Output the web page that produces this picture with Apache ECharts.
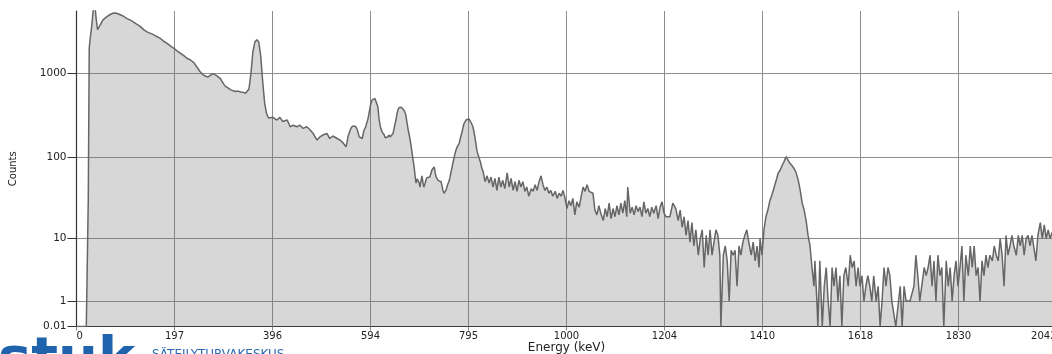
<!DOCTYPE html>
<html><head><meta charset="utf-8">
<script src="https://cdn.jsdelivr.net/npm/echarts@6/dist/echarts.min.js"></script>
<style>html,body{margin:0;padding:0;background:#fff}#c{width:1052px;height:354px}</style>
</head><body><div id="c"></div>
<script>
// Energy tick labels (keV) shown at every 200 channels
const xTickLabels = ['0','197','396','594','795','1000','1204','1410','1618','1830','2042'];
const yTickValues = [0.01, 1, 10, 100, 1000];
const yTickLabels = ['0.01','1','10','100','1000'];

// channel numbers
const channels = [
0,20,22,24,26,28,31,34,36,38,40,43,45,48,54,62,68,74,80,86,89,96,103,109,115,122,130,137,144,150,156,163,171,178,185,192,199,205,211,219,226,232,236,240,246,252,258,263,268,272,278,282,286,290,294,297,301,304,309,314,320,325,330,335,340,345,349,352,356,360,364,368,372,376,380,384,388,392,396,
401,405,409,415,418,421,425,430,433,436,442,446,450,456,459,462,466,470,474,477,480,483,487,491,494,497,500,503,507,511,514,517,520,523,527,532,535,538,541,544,547,550,552,554,557,560,563,566,569,572,575,577,580,583,585,587,590,593,595,597,600,603,606,609,611,613,615,617,619,621,624,628,630,632,635,638,640,642,644,646,649,652,654,656,658,660,663,666,669,672,674,677,679,681,683,685,687,689,691,693,695,697,699,701,703,705,707,709,711,713,715,717,719,721,723,725,727,730,732,734,736,738,741,744,746,748,750,752,754,756,758,760,762,764,766,768,770,772,774,777,779,781,784,787,789,791,793,795,797,799,
801,803,806,809,811,813,815,817,819,821,823,825,827,830,832,834,836,838,842,846,850,854,858,862,866,870,874,879,883,887,891,895,899,903,907,911,915,919,923,928,932,936,940,944,948,952,956,960,964,968,972,977,981,985,989,993,997,
1001,1005,1009,1013,1017,1021,1026,1030,1034,1038,1042,1046,1050,1054,1058,1062,1066,1070,1075,1079,1083,1087,1091,1095,1099,1103,1107,1111,1115,1119,1123,1125,1130,1134,1138,1142,1146,1150,1154,1158,1162,1166,1170,1174,1178,1183,1187,1191,1195,1199,
1203,1207,1211,1217,1223,1228,1232,1236,1240,1244,1248,1252,1256,1260,1264,1269,1273,1277,1281,1285,1289,1293,1297,1301,1305,1309,1313,1315,1320,1324,1328,1332,1336,1340,1344,1348,1352,1356,1360,1364,1368,1372,1377,1381,1385,1389,1393,1395,1399,
1403,1407,1411,1415,1419,1424,1428,1432,1436,1440,1444,1448,1452,1456,1460,1464,1468,1473,1477,1481,1485,1489,1493,1497,1501,1505,1507,1511,1513,1517,1522,1526,1530,1534,1538,1542,1546,1550,1554,1558,1562,1566,1570,1575,1579,1583,1587,1591,1595,1599,
1603,1607,1611,1615,1619,1623,1627,1632,1636,1640,1644,1648,1652,1656,1660,1664,1668,1672,1676,1681,1685,1689,1693,1697,1701,1705,1709,1713,1717,1721,1725,1730,1734,1738,1742,1746,1750,1754,1758,1762,1766,1770,1775,1779,1783,1787,1791,1795,1799,
1803,1807,1811,1815,1820,1824,1828,1832,1836,1840,1844,1848,1852,1856,1860,1864,1869,1873,1877,1881,1885,1889,1893,1897,1901,1905,1909,1913,1918,1922,1926,1930,1934,1938,1942,1946,1950,1954,1958,1962,1967,1971,1975,1979,1983,1987,1991,1995,2000,2008
];

// counts per channel
const counts = [
0,0,0,30,2000,2600,3600,5500,7000,6000,4500,3300,3250,3700,4300,4700,4950,5150,5200,5050,4950,4750,4450,4300,4100,3850,3600,3300,3100,3000,2900,2750,2600,2400,2270,2100,1980,1850,1750,1620,1500,1450,1480,1330,1180,1050,960,930,900,920,990,980,940,930,860,800,740,700,670,640,620,610,615,600,595,580,600,650,1000,1800,2350,2500,2350,1600,800,440,330,295,305,
300,290,279,300,285,268,275,279,255,232,242,238,232,242,230,222,228,232,220,212,205,193,175,161,170,176,182,185,190,193,180,168,175,180,172,168,165,161,155,149,142,134,150,176,200,222,235,242,235,222,195,176,172,168,190,212,230,242,290,335,420,482,498,504,500,482,400,305,250,222,200,185,172,164,175,185,175,168,180,193,235,279,330,367,390,401,395,382,360,322,270,212,185,161,135,111,92,77,60,49,55,58,50,44,52,60,50,44,48,53,57,60,55,58,63,70,73,77,66,58,55,53,52,51,45,40,37,35,40,44,48,51,57,65,74,85,96,108,120,134,141,147,175,203,230,255,268,279,288,292,
288,279,255,232,205,176,148,122,110,102,93,85,75,67,58,51,56,60,49,58,44,56,40,58,44,53,42,65,44,56,40,51,39,53,44,51,39,44,34,42,39,47,40,51,60,47,40,44,37,40,34,39,32,37,34,40,32,
24,30,26,32,20,29,25,34,44,39,47,39,40,37,23,20,26,21,17,24,19,28,18,24,19,26,20,28,21,30,19,44,21,25,20,26,22,25,19,29,21,24,19,25,21,26,18,25,29,21,
19,20,19,28,24,17,23,14,19,11,17,9,16,8,13,6,10,13,4,11,6,13,6,9,13,11,6,0,6,8,5,1,7,6,7,2,8,6,9,11,13,9,6,9,5,8,4,10,6,
13,19,23,30,35,44,53,65,70,80,89,102,97,85,80,74,67,53,40,28,23,17,11,8,4,2,5,1,0,5,0,2,4,1,0,4,2,4,1,3,0,3,4,2,6,4,5,2,4,2,
3,1,2,3,2,1,3,1,2,0,1,4,2,4,3,1,1,0,0,2,0,2,1,1,1,1,2,6,3,1,1,4,3,4,6,2,5,1,6,3,4,0,5,2,4,1,3,5,2,
4,8,1,6,3,8,4,8,3,4,1,5,3,6,4,6,5,8,6,5,10,6,2,11,6,8,11,8,6,11,8,11,6,10,11,8,11,11,5,11,16,10,15,10,13,10,12,9,11,10
];

const yMaxCounts = 5483; // top of plot area

const tf = v => Math.log10(1 + v);
const data = channels.map((c, i) => [c, tf(counts[i])]);
const yCustom = yTickValues.map(tf);

const chart = echarts.init(document.getElementById('c'), null, {renderer: 'canvas'});
chart.setOption({
  animation: false,
  backgroundColor: '#ffffff',
  textStyle: {fontFamily: 'DejaVu Sans'},
  grid: {left: 76.5, right: -4.5, top: 11, bottom: 27.5, containLabel: false, outerBoundsMode: 'none'},
  xAxis: {
    type: 'value', min: 0, max: 2000, interval: 200,
    name: 'Energy (keV)', nameLocation: 'middle', nameGap: 15, nameMoveOverlap: false,
    nameTextStyle: {fontSize: 12, color: '#222', fontFamily: 'DejaVu Sans'},
    axisLine: {show: true, lineStyle: {color: '#333', width: 1.2}},
    axisTick: {show: true, length: 4, lineStyle: {color: '#888'}},
    axisLabel: {
      fontSize: 10, color: '#222', margin: 5, fontFamily: 'DejaVu Sans',
      alignMinLabel: 'left', alignMaxLabel: 'right',
      formatter: v => xTickLabels[Math.round(v / 200)]
    },
    splitLine: {show: true, lineStyle: {color: '#8c8c8c', width: 1}}
  },
  yAxis: {
    type: 'value', min: 0, max: tf(yMaxCounts),
    name: 'Counts', nameLocation: 'middle', nameGap: 58, nameMoveOverlap: false,
    nameTextStyle: {fontSize: 10, color: '#222', fontFamily: 'DejaVu Sans'},
    axisLine: {show: true, lineStyle: {color: '#333', width: 1.2}},
    axisTick: {show: true, length: 9, customValues: yCustom, lineStyle: {color: '#333'}},
    axisLabel: {
      customValues: yCustom, fontSize: 10.5, color: '#222', margin: 10, fontFamily: 'DejaVu Sans',
      formatter: v => {
        let best = 0;
        yCustom.forEach((c, i) => { if (Math.abs(c - v) < Math.abs(yCustom[best] - v)) best = i; });
        return yTickLabels[best];
      }
    },
    splitLine: {show: true, lineStyle: {color: '#8c8c8c', width: 1}}
  },
  series: [{
    type: 'line',
    data: data,
    showSymbol: false,
    clip: true,
    lineStyle: {color: '#666666', width: 1.5},
    areaStyle: {color: 'rgba(110,110,110,0.28)', opacity: 1, origin: 'start'}
  }],
  graphic: [
    {type: 'text', left: -2, top: 333, silent: true,
     style: {text: 'stuk', fontSize: 56, fontWeight: 'bold', fill: '#1f63ad', fontFamily: 'DejaVu Sans'}},
    {type: 'text', left: 152, top: 349, silent: true,
     style: {text: 'SÄTEILYTURVAKESKUS', fontSize: 12, fill: '#2b6cb5', fontFamily: 'DejaVu Sans'}}
  ]
});
</script></body></html>
